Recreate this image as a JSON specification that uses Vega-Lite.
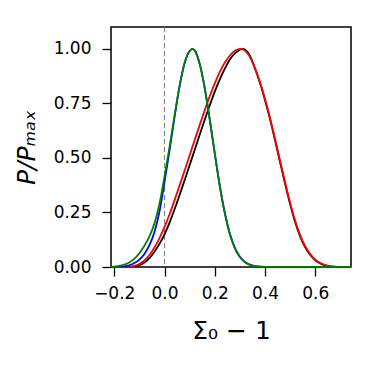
{
  "$schema": "https://vega.github.io/schema/vega-lite/v6.json",
  "autosize": "none",
  "width": 240,
  "height": 240,
  "padding": {"left": 111, "top": 27, "right": 28, "bottom": 102},
  "background": "white",
  "config": {
    "view": {"stroke": "black", "strokeWidth": 1.5},
    "font": "DejaVu Sans",
    "axis": {
      "grid": false,
      "domain": false,
      "tickColor": "black",
      "tickWidth": 1.3,
      "tickSize": 9,
      "labelFont": "DejaVu Sans",
      "labelFontSize": 17,
      "labelColor": "black",
      "titleFont": "DejaVu Sans",
      "titleFontSize": 25,
      "titleFontWeight": "normal",
      "titleColor": "black"
    }
  },
  "datasets": {
    "black": [
      {"x": -0.22, "y": 0}, {"x": -0.14, "y": 0}, {"x": -0.12, "y": 0.002}, {"x": -0.10, "y": 0.008},
      {"x": -0.08, "y": 0.02}, {"x": -0.06, "y": 0.041}, {"x": -0.04, "y": 0.07}, {"x": -0.02, "y": 0.106},
      {"x": 0.00, "y": 0.15}, {"x": 0.02, "y": 0.2035}, {"x": 0.04, "y": 0.2645}, {"x": 0.06, "y": 0.33},
      {"x": 0.08, "y": 0.398}, {"x": 0.10, "y": 0.467}, {"x": 0.12, "y": 0.5365}, {"x": 0.14, "y": 0.606},
      {"x": 0.16, "y": 0.675}, {"x": 0.18, "y": 0.741}, {"x": 0.20, "y": 0.804}, {"x": 0.22, "y": 0.86},
      {"x": 0.24, "y": 0.909}, {"x": 0.26, "y": 0.951}, {"x": 0.28, "y": 0.979}, {"x": 0.30, "y": 0.996},
      {"x": 0.31, "y": 1.0}, {"x": 0.32, "y": 0.997}, {"x": 0.34, "y": 0.967}, {"x": 0.36, "y": 0.91},
      {"x": 0.38, "y": 0.843}, {"x": 0.40, "y": 0.764}, {"x": 0.42, "y": 0.677}, {"x": 0.44, "y": 0.58},
      {"x": 0.46, "y": 0.479}, {"x": 0.48, "y": 0.38}, {"x": 0.50, "y": 0.287}, {"x": 0.52, "y": 0.205},
      {"x": 0.54, "y": 0.139}, {"x": 0.56, "y": 0.09}, {"x": 0.58, "y": 0.055}, {"x": 0.60, "y": 0.031},
      {"x": 0.62, "y": 0.016}, {"x": 0.64, "y": 0.007}, {"x": 0.66, "y": 0.003}, {"x": 0.68, "y": 0.001},
      {"x": 0.70, "y": 0}, {"x": 0.742, "y": 0}
    ],
    "red": [
      {"x": -0.22, "y": 0}, {"x": -0.16, "y": 0}, {"x": -0.14, "y": 0.001}, {"x": -0.12, "y": 0.005},
      {"x": -0.10, "y": 0.014}, {"x": -0.08, "y": 0.03}, {"x": -0.06, "y": 0.055}, {"x": -0.04, "y": 0.0895},
      {"x": -0.02, "y": 0.1325}, {"x": 0.00, "y": 0.1835}, {"x": 0.02, "y": 0.242}, {"x": 0.04, "y": 0.3065},
      {"x": 0.06, "y": 0.374}, {"x": 0.08, "y": 0.4425}, {"x": 0.10, "y": 0.512}, {"x": 0.12, "y": 0.582},
      {"x": 0.14, "y": 0.6515}, {"x": 0.16, "y": 0.719}, {"x": 0.18, "y": 0.783}, {"x": 0.20, "y": 0.842},
      {"x": 0.22, "y": 0.894}, {"x": 0.24, "y": 0.937}, {"x": 0.26, "y": 0.9695}, {"x": 0.28, "y": 0.991},
      {"x": 0.303, "y": 1.0}, {"x": 0.32, "y": 0.992}, {"x": 0.34, "y": 0.962}, {"x": 0.36, "y": 0.912},
      {"x": 0.38, "y": 0.847}, {"x": 0.40, "y": 0.77}, {"x": 0.42, "y": 0.682}, {"x": 0.44, "y": 0.586},
      {"x": 0.46, "y": 0.486}, {"x": 0.48, "y": 0.387}, {"x": 0.50, "y": 0.294}, {"x": 0.52, "y": 0.212},
      {"x": 0.54, "y": 0.145}, {"x": 0.56, "y": 0.095}, {"x": 0.58, "y": 0.059}, {"x": 0.60, "y": 0.034},
      {"x": 0.62, "y": 0.018}, {"x": 0.64, "y": 0.009}, {"x": 0.66, "y": 0.004}, {"x": 0.68, "y": 0.0015},
      {"x": 0.70, "y": 0.0003}, {"x": 0.72, "y": 0}, {"x": 0.742, "y": 0}
    ],
    "blue": [
      {"x": -0.22, "y": 0}, {"x": -0.20, "y": 0}, {"x": -0.18, "y": 0.001}, {"x": -0.16, "y": 0.003},
      {"x": -0.14, "y": 0.008}, {"x": -0.12, "y": 0.018}, {"x": -0.10, "y": 0.034}, {"x": -0.08, "y": 0.06},
      {"x": -0.06, "y": 0.10}, {"x": -0.04, "y": 0.16}, {"x": -0.02, "y": 0.255}, {"x": 0.00, "y": 0.39},
      {"x": 0.02, "y": 0.535}, {"x": 0.04, "y": 0.688}, {"x": 0.06, "y": 0.83}, {"x": 0.08, "y": 0.935},
      {"x": 0.10, "y": 0.99}, {"x": 0.11, "y": 1.0}, {"x": 0.12, "y": 0.993}, {"x": 0.14, "y": 0.93},
      {"x": 0.16, "y": 0.82}, {"x": 0.18, "y": 0.675}, {"x": 0.20, "y": 0.52}, {"x": 0.22, "y": 0.372},
      {"x": 0.24, "y": 0.248}, {"x": 0.26, "y": 0.152}, {"x": 0.28, "y": 0.088}, {"x": 0.30, "y": 0.047},
      {"x": 0.32, "y": 0.023}, {"x": 0.34, "y": 0.011}, {"x": 0.36, "y": 0.0045}, {"x": 0.38, "y": 0.0015},
      {"x": 0.40, "y": 0.0004}, {"x": 0.42, "y": 0}, {"x": 0.742, "y": 0}
    ],
    "green": [
      {"x": -0.22, "y": 0.0005}, {"x": -0.20, "y": 0.002}, {"x": -0.18, "y": 0.005}, {"x": -0.16, "y": 0.011},
      {"x": -0.14, "y": 0.021}, {"x": -0.12, "y": 0.038}, {"x": -0.10, "y": 0.063}, {"x": -0.08, "y": 0.097},
      {"x": -0.06, "y": 0.14}, {"x": -0.04, "y": 0.20}, {"x": -0.02, "y": 0.29}, {"x": 0.00, "y": 0.415},
      {"x": 0.02, "y": 0.55}, {"x": 0.04, "y": 0.695}, {"x": 0.06, "y": 0.83}, {"x": 0.08, "y": 0.935},
      {"x": 0.10, "y": 0.99}, {"x": 0.11, "y": 1.0}, {"x": 0.12, "y": 0.993}, {"x": 0.14, "y": 0.93},
      {"x": 0.16, "y": 0.82}, {"x": 0.18, "y": 0.675}, {"x": 0.20, "y": 0.52}, {"x": 0.22, "y": 0.37},
      {"x": 0.24, "y": 0.245}, {"x": 0.26, "y": 0.15}, {"x": 0.28, "y": 0.085}, {"x": 0.30, "y": 0.045},
      {"x": 0.32, "y": 0.022}, {"x": 0.34, "y": 0.01}, {"x": 0.36, "y": 0.004}, {"x": 0.38, "y": 0.0015},
      {"x": 0.40, "y": 0.0004}, {"x": 0.42, "y": 0}, {"x": 0.742, "y": 0}
    ],
    "zero": [{"x": 0}]
  },
  "encoding": {
    "x": {
      "field": "x", "type": "quantitative",
      "scale": {"domain": [-0.213, 0.742], "nice": false, "zero": false},
      "axis": {"values": [-0.2, 0, 0.2, 0.4, 0.6], "format": ".1f", "labelPadding": 9, "title": "Σ₀ − 1", "titlePadding": 17}
    }
  },
  "layer": [
    {
      "data": {"name": "zero"},
      "mark": {"type": "rule", "color": "#808080", "strokeWidth": 1.1, "strokeDash": [5, 3]},
      "encoding": {}
    },
    {
      "data": {"name": "black"},
      "mark": {"type": "line", "color": "black", "strokeWidth": 1.8, "interpolate": "monotone", "clip": true},
      "encoding": {
        "y": {
          "field": "y", "type": "quantitative",
          "scale": {"domain": [0, 1.1], "nice": false},
          "axis": {"values": [0, 0.25, 0.5, 0.75, 1.0], "format": ".2f", "labelPadding": 11, "title": "P/Pₘₐₓ", "titleFontStyle": "italic", "titlePadding": 14}
        }
      }
    },
    {
      "data": {"name": "red"},
      "mark": {"type": "line", "color": "#ff0000", "strokeWidth": 1.8, "interpolate": "monotone", "clip": true},
      "encoding": {"y": {"field": "y", "type": "quantitative"}}
    },
    {
      "data": {"name": "blue"},
      "mark": {"type": "line", "color": "#0000ff", "strokeWidth": 1.8, "interpolate": "monotone", "clip": true},
      "encoding": {"y": {"field": "y", "type": "quantitative"}}
    },
    {
      "data": {"name": "green"},
      "mark": {"type": "line", "color": "#008000", "strokeWidth": 1.8, "interpolate": "monotone", "clip": true},
      "encoding": {"y": {"field": "y", "type": "quantitative"}}
    }
  ]
}
